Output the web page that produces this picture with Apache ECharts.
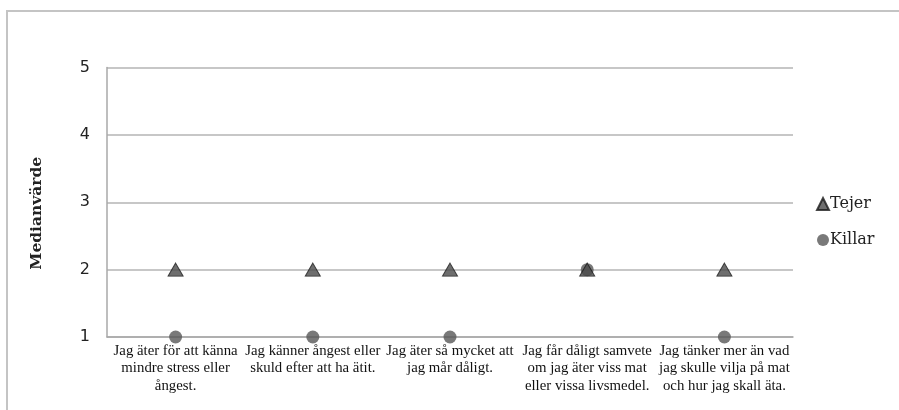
<!DOCTYPE html>
<html>
<head>
<meta charset="utf-8">
<script src="https://cdn.jsdelivr.net/npm/echarts@6/dist/echarts.min.js"></script>
<style>
  html, body { margin: 0; padding: 0; background: #fff; }
  #chart { width: 899px; height: 410px; }
</style>
</head>
<body>
<div id="chart"></div>
<script>
// Statements (category axis), wrapped into lines as printed under the axis
const categories = [
  'Jag äter för att känna\nmindre stress eller\nångest.',
  'Jag känner ångest eller\nskuld efter att ha ätit.',
  'Jag äter så mycket att\njag mår dåligt.',
  'Jag får dåligt samvete\nom jag äter viss mat\neller vissa livsmedel.',
  'Jag tänker mer än vad\njag skulle vilja på mat\noch hur jag skall äta.'
];
// Median answers per group
const tejer = [2, 2, 2, 2, 2];
const killar = [1, 1, 1, 2, 1];
const yTicks = [1, 2, 3, 4, 5];

const chart = echarts.init(document.getElementById('chart'));
chart.setOption({
  backgroundColor: '#ffffff',
  animation: false,
  graphic: [{
    type: 'rect',
    shape: { x: 7, y: 11, width: 960, height: 460 },
    style: { fill: 'none', stroke: '#c4c4c4', lineWidth: 2 },
    silent: true
  }],
  grid: { left: 107, right: 106, top: 67.5, bottom: 73, containLabel: false },
  legend: {
    orient: 'vertical',
    left: 811,
    top: 191,
    itemGap: 20,
    itemWidth: 12,
    itemHeight: 12,
    data: [
      { name: 'Tejer', icon: 'triangle' },
      { name: 'Killar', icon: 'circle' }
    ],
    textStyle: { fontFamily: 'DejaVu Serif', fontSize: 16, color: '#222', padding: [0, 0, 0, -4] }
  },
  xAxis: {
    type: 'category',
    data: categories,
    boundaryGap: true,
    axisLine: { show: true, lineStyle: { color: '#a8a8a8', width: 1.5 } },
    axisTick: { show: false },
    axisLabel: {
      interval: 0,
      margin: 5,
      fontFamily: 'Liberation Serif',
      fontSize: 14.8,
      lineHeight: 17.5,
      color: '#111'
    },
    splitLine: { show: false }
  },
  yAxis: {
    type: 'value',
    min: yTicks[0],
    max: yTicks[yTicks.length - 1],
    interval: 1,
    name: 'Medianvärde',
    nameLocation: 'middle',
    nameGap: 62,
    nameRotate: 90,
    nameTextStyle: {
      fontFamily: 'DejaVu Serif',
      fontWeight: 'bold',
      fontSize: 15.5,
      color: '#222',
      padding: [0, 22, 0, 0]
    },
    axisLine: { show: true, lineStyle: { color: '#a8a8a8', width: 1.5 } },
    axisTick: { show: false },
    axisLabel: {
      margin: 17,
      fontFamily: 'DejaVu Sans',
      fontSize: 16,
      color: '#222'
    },
    splitLine: { show: true, lineStyle: { color: '#b4b4b4', width: 1.5 } }
  },
  series: [
    {
      name: 'Tejer',
      type: 'scatter',
      data: tejer,
      symbol: 'triangle',
      symbolSize: [15, 13],
      z: 3,
      itemStyle: { color: '#4a4a4a', borderColor: '#1a1a1a', borderWidth: 1 }
    },
    {
      name: 'Killar',
      type: 'scatter',
      data: killar,
      symbol: 'circle',
      symbolSize: 13,
      z: 2,
      itemStyle: { color: '#585858' }
    }
  ]
});
</script>
</body>
</html>
